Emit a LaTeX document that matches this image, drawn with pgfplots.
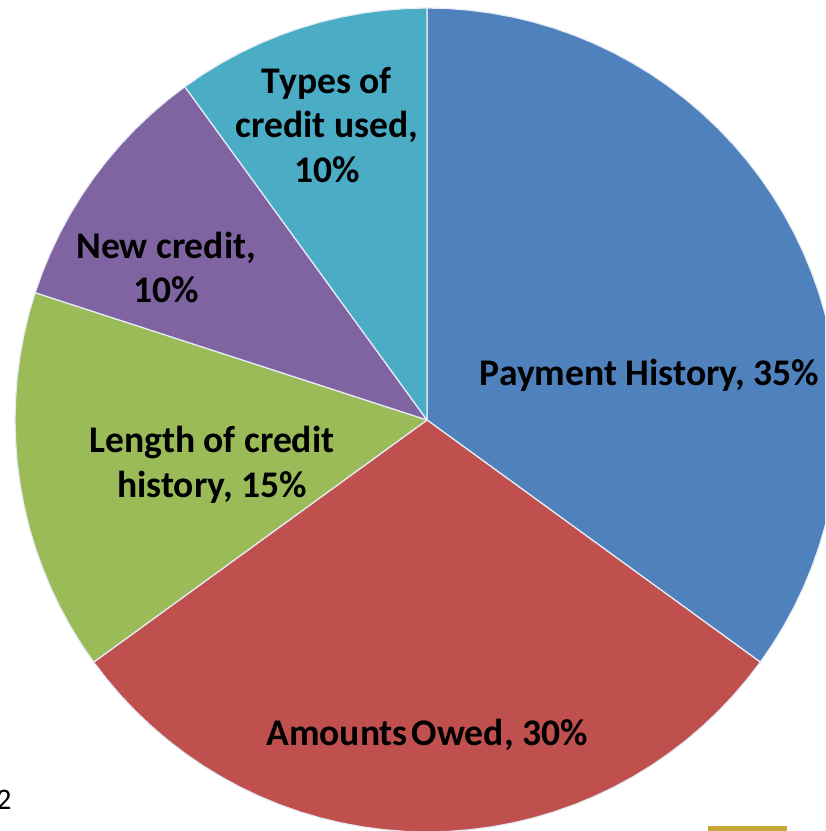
\documentclass[border=0pt]{standalone}
\usepackage{pgfplots}
\pgfplotsset{compat=1.18}
\usepgfplotslibrary{polar}
\usepackage{fontspec}
\setmainfont{Carlito}
\definecolor{cBlue}{HTML}{4F81BD}
\definecolor{cRed}{HTML}{C0504D}
\definecolor{cGreen}{HTML}{9BBB59}
\definecolor{cPurple}{HTML}{8064A2}
\definecolor{cTeal}{HTML}{4BACC6}
\definecolor{cGold}{HTML}{C8A838}
\tikzset{lbl/.style={font=\bfseries\fontsize{10.7}{12.6}\selectfont, align=center, text=black}}
\begin{document}
\begin{tikzpicture}
\begin{axis}[
  hide axis, scale only axis, clip=true,
  width=8.25cm, height=8.31cm,
  xmin=-1.0364, xmax=0.9660, ymin=-0.9976, ymax=1.0194,
  every axis plot/.append style={data cs=polar, draw=white!85!cBlue, line width=0.35pt, line join=round},
]
% Payment History 35%
\addplot[fill=cBlue] coordinates {(0,0) (90,1) (87,1) (84,1) (81,1) (78,1) (75,1) (72,1) (69,1) (66,1) (63,1) (60,1) (57,1) (54,1) (51,1) (48,1) (45,1) (42,1) (39,1) (36,1) (33,1) (30,1) (27,1) (24,1) (21,1) (18,1) (15,1) (12,1) (9,1) (6,1) (3,1) (0,1) (-3,1) (-6,1) (-9,1) (-12,1) (-15,1) (-18,1) (-21,1) (-24,1) (-27,1) (-30,1) (-33,1) (-36,1) (0,0)};
% Amounts Owed 30%
\addplot[fill=cRed] coordinates {(0,0) (-36,1) (-39,1) (-42,1) (-45,1) (-48,1) (-51,1) (-54,1) (-57,1) (-60,1) (-63,1) (-66,1) (-69,1) (-72,1) (-75,1) (-78,1) (-81,1) (-84,1) (-87,1) (-90,1) (-93,1) (-96,1) (-99,1) (-102,1) (-105,1) (-108,1) (-111,1) (-114,1) (-117,1) (-120,1) (-123,1) (-126,1) (-129,1) (-132,1) (-135,1) (-138,1) (-141,1) (-144,1) (0,0)};
% Length of credit history 15%
\addplot[fill=cGreen] coordinates {(0,0) (216,1) (213,1) (210,1) (207,1) (204,1) (201,1) (198,1) (195,1) (192,1) (189,1) (186,1) (183,1) (180,1) (177,1) (174,1) (171,1) (168,1) (165,1) (162,1) (0,0)};
% New credit 10%
\addplot[fill=cPurple] coordinates {(0,0) (162,1) (159,1) (156,1) (153,1) (150,1) (147,1) (144,1) (141,1) (138,1) (135,1) (132,1) (129,1) (126,1) (0,0)};
% Types of credit used 10%
\addplot[fill=cTeal] coordinates {(0,0) (126,1) (123,1) (120,1) (117,1) (114,1) (111,1) (108,1) (105,1) (102,1) (99,1) (96,1) (93,1) (90,1) (0,0)};

\node[lbl] at (axis cs:0.540,0.109) {Payment History, 35\%};
\node[lbl] at (axis cs:0.000,-0.765) {Amounts\kern0.1em Owed, 30\%};
\node[lbl] at (axis cs:-0.522,-0.109) {Length of credit\\history, 15\%};
\node[lbl] at (axis cs:-0.633,0.370) {New credit,\\10\%};
\node[lbl] at (axis cs:-0.243,0.716) {Types of\\credit used,\\10\%};
\node[font=\fontsize{8.5}{10}\selectfont, text=black] at (axis cs:-1.0267,-0.9223) {2};
\fill[cGold] (axis cs:0.682,-0.985) rectangle (axis cs:0.874,-1.02);
\end{axis}
\pgfresetboundingbox
\path (current axis.south west) rectangle (current axis.north east);
\end{tikzpicture}
\end{document}
